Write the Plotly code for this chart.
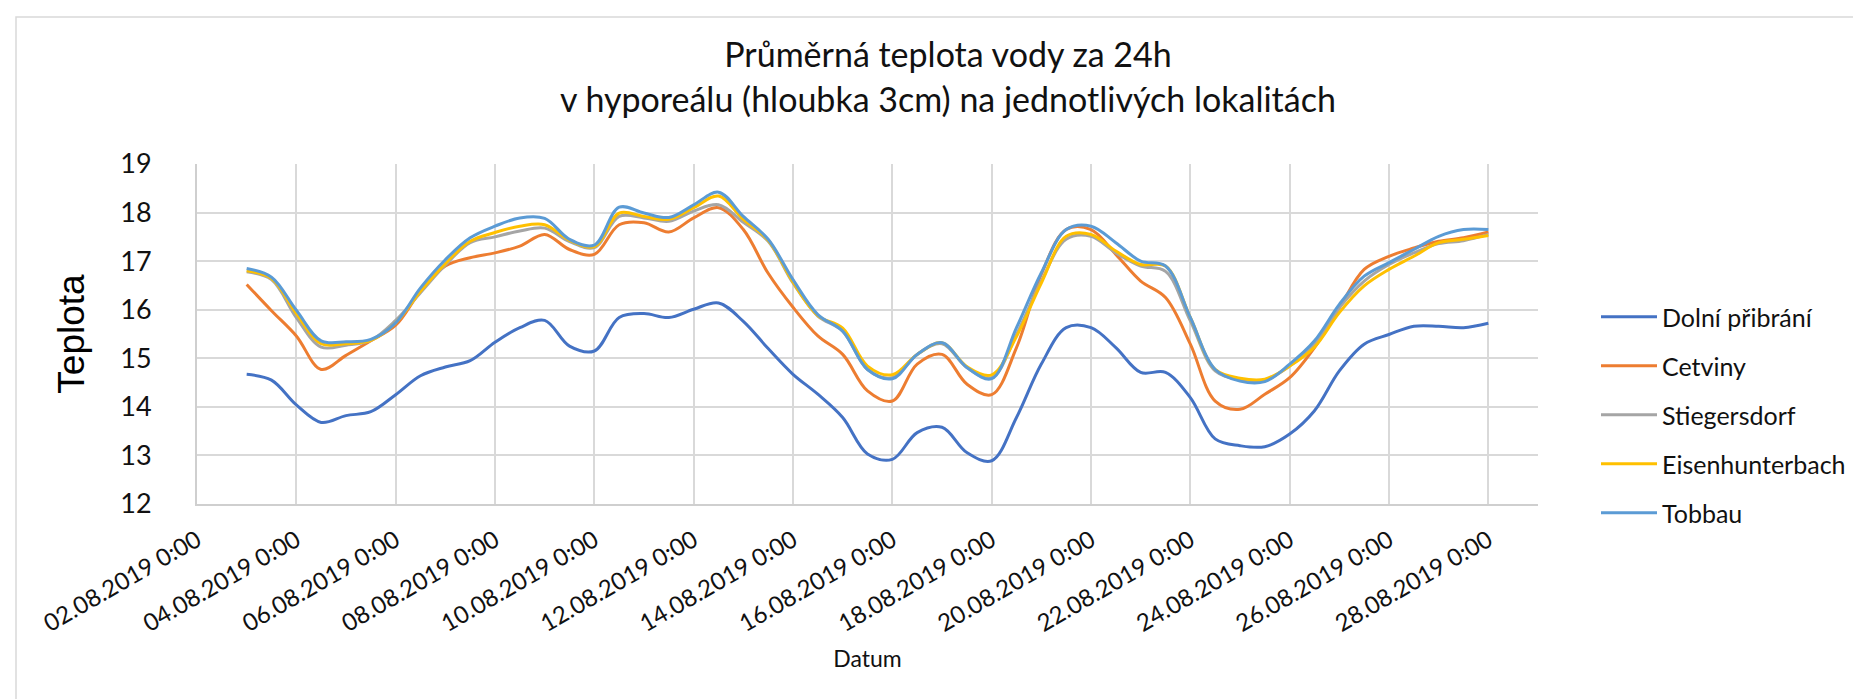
import pandas as pd
import plotly.graph_objects as go

# x categories: 24h averages sampled every 12 hours, 03.08.2019 0:00 - 28.08.2019 0:00
dates = pd.date_range("2019-08-03 00:00", "2019-08-28 00:00", freq="12h")

dolni_pribrani = [14.67, 14.55, 14.04, 13.68, 13.82, 13.90, 14.25, 14.64, 14.82, 14.95,
                  15.33, 15.63, 15.78, 15.25, 15.15, 15.84, 15.92, 15.84, 16.01, 16.14,
                  15.76, 15.20, 14.67, 14.26, 13.78, 13.03, 12.92, 13.47, 13.58, 13.06,
                  12.89, 13.78, 14.88, 15.63, 15.63, 15.22, 14.71, 14.71, 14.19, 13.34,
                  13.20, 13.18, 13.44, 13.92, 14.74, 15.29, 15.49, 15.66, 15.66, 15.63, 15.72]
cetviny = [16.52, 15.98, 15.46, 14.77, 15.06, 15.36, 15.68, 16.38, 16.90, 17.07,
           17.17, 17.31, 17.55, 17.24, 17.14, 17.75, 17.79, 17.60, 17.89, 18.10,
           17.65, 16.75, 16.05, 15.46, 15.08, 14.33, 14.12, 14.88, 15.08, 14.47,
           14.25, 15.22, 16.73, 17.65, 17.65, 17.14, 16.59, 16.25, 15.29, 14.12,
           13.95, 14.26, 14.60, 15.22, 16.04, 16.83, 17.10, 17.27, 17.41, 17.48, 17.60]
stiegersdorf = [16.78, 16.62, 15.84, 15.23, 15.27, 15.37, 15.78, 16.35, 16.92, 17.38,
                17.50, 17.62, 17.68, 17.40, 17.28, 17.92, 17.89, 17.82, 18.03, 18.16,
                17.80, 17.41, 16.55, 15.87, 15.56, 14.77, 14.60, 15.08, 15.30, 14.81,
                14.60, 15.49, 16.59, 17.45, 17.51, 17.17, 16.90, 16.79, 15.77, 14.74,
                14.57, 14.55, 14.84, 15.29, 16.04, 16.59, 16.93, 17.17, 17.36, 17.42, 17.55]
eisenhunterbach = [16.80, 16.64, 15.92, 15.30, 15.30, 15.37, 15.73, 16.38, 16.95, 17.41,
                   17.59, 17.72, 17.75, 17.43, 17.30, 17.99, 17.92, 17.86, 18.10, 18.34,
                   17.86, 17.43, 16.57, 15.88, 15.62, 14.84, 14.66, 15.08, 15.32, 14.83,
                   14.66, 15.45, 16.55, 17.51, 17.55, 17.21, 16.93, 16.90, 15.84, 14.77,
                   14.59, 14.57, 14.84, 15.23, 15.94, 16.49, 16.83, 17.10, 17.38, 17.45, 17.53]
tobbau = [16.85, 16.67, 15.99, 15.36, 15.34, 15.39, 15.73, 16.45, 17.03, 17.48,
          17.72, 17.89, 17.88, 17.45, 17.33, 18.11, 17.99, 17.90, 18.16, 18.42,
          17.92, 17.45, 16.62, 15.90, 15.56, 14.77, 14.58, 15.08, 15.32, 14.81,
          14.58, 15.63, 16.76, 17.65, 17.72, 17.38, 17.00, 16.90, 15.84, 14.77,
          14.53, 14.52, 14.88, 15.36, 16.11, 16.69, 16.97, 17.24, 17.51, 17.65, 17.65]

series_names = ["Dolní přibrání", "Cetviny", "Stiegersdorf", "Eisenhunterbach", "Tobbau"]
series_values = [dolni_pribrani, cetviny, stiegersdorf, eisenhunterbach, tobbau]
series_colors = ["#4472C4", "#ED7D31", "#A5A5A5", "#FFC000", "#5B9BD5"]

title_line1 = "Průměrná teplota vody za 24h"
title_line2 = "v hyporeálu (hloubka 3cm) na jednotlivých lokalitách"
y_title = "Teplota"
x_title = "Datum"

W, H = 1861, 699
L, R, T, B = 189, 331, 156, 203
pw, ph = W - L - R, H - T - B

FONT = "Lato, 'Open Sans', sans-serif"
TXT = "#111111"

fig = go.Figure()
for name, vals, col in zip(series_names, series_values, series_colors):
    fig.add_trace(go.Scatter(
        x=dates, y=vals, name=name, mode="lines",
        line=dict(color=col, width=3, shape="spline", smoothing=1.0),
        legendgroup=name,
    ))


def px_x(x):
    return (x - L) / pw


def px_y(y):
    return (H - B - y) / ph


fig.update_layout(
    width=W, height=H,
    margin=dict(l=L, r=R, t=T, b=B),
    paper_bgcolor="white", plot_bgcolor="white",
    font=dict(family=FONT, color=TXT),
    title=dict(text=title_line1, x=940 / W, xanchor="center",
               y=1 - 47 / H, yanchor="middle", yref="container",
               font=dict(family=FONT, size=34, color=TXT)),
    showlegend=True,
    legend=dict(x=px_x(1588), xanchor="left", y=px_y(407), yanchor="middle",
                font=dict(family=FONT, size=25, color=TXT),
                itemwidth=56,
                tracegroupgap=13.5, bgcolor="rgba(0,0,0,0)"),
    xaxis=dict(
        range=["2019-08-02 00:00", "2019-08-29 00:00"],
        tick0="2019-08-02", dtick=2 * 86400000,
        tickformat="%d.%m.%Y %-H:%M", tickangle=-30,
        tickfont=dict(family=FONT, size=24, color=TXT),
        ticklabelstandoff=11,
        showgrid=True, gridcolor="#D9D9D9", gridwidth=2,
        showline=True, linecolor="#CFCFCF", linewidth=2,
        ticks="", zeroline=False,
        title=dict(text=x_title, font=dict(family=FONT, size=23, color=TXT), standoff=15),
    ),
    yaxis=dict(
        range=[12, 19], dtick=1, tick0=12,
        tickfont=dict(family=FONT, size=27, color=TXT),
        showgrid=True, gridcolor="#D9D9D9", gridwidth=2,
        showline=True, linecolor="#CFCFCF", linewidth=2,
        ticks="", zeroline=False,
        ticklabelstandoff=38,
        title=dict(text=y_title, font=dict(family="Liberation Sans, Arial, sans-serif", size=37, color="#000000"),
                   standoff=24),
    ),
    annotations=[dict(text=title_line2, x=px_x(940), y=px_y(90), xref="paper", yref="paper",
                      showarrow=False, xanchor="center", yanchor="middle",
                      font=dict(family=FONT, size=34, color=TXT))],
    shapes=[dict(type="rect", xref="paper", yref="paper",
                 x0=px_x(8), x1=px_x(1875), y0=px_y(712), y1=px_y(9),
                 line=dict(color="#D9D9D9", width=1.5), layer="below")],
)

fig.write_html("out.html")
